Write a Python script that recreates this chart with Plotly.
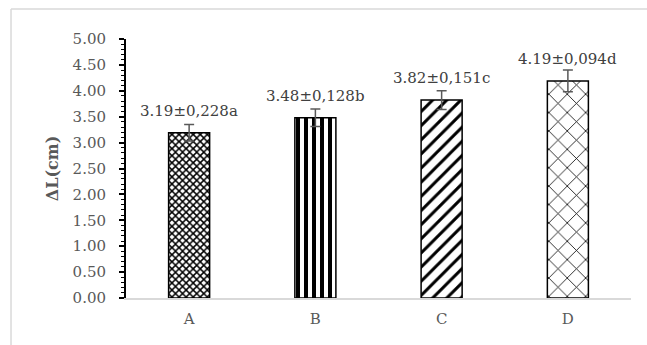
import plotly.graph_objects as go

categories = ["A", "B", "C", "D"]
means = [3.19, 3.48, 3.82, 4.19]
errors = [0.16, 0.17, 0.18, 0.21]
labels = ["3.19±0,228a", "3.48±0,128b", "3.82±0,151c", "4.19±0,094d"]
patterns = ["x", "|", "/", "x"]
pattern_sizes = [5, 8, 10, 13]
pattern_solidity = [0.5, 0.5, 0.3, 0.12]

fig = go.Figure()
fig.add_trace(go.Bar(
    x=categories, y=means, width=0.325,
    marker=dict(color="white", line=dict(color="black", width=1.5),
                pattern=dict(shape=patterns, size=pattern_sizes,
                             solidity=pattern_solidity, fgcolor="black",
                             bgcolor="white", fillmode="replace")),
    error_y=dict(type="data", array=errors, visible=True,
                 color="#595959", thickness=1.5, width=5),
    showlegend=False,
))

for c, m, lab in zip(categories, means, labels):
    fig.add_annotation(x=c, y=m, text=lab, showarrow=False, yanchor="bottom",
                       yshift=11, font=dict(family="DejaVu Serif", size=15, color="#404040"))

# outer frame (only left and top edges visible in the window)
fig.add_shape(type="line", xref="paper", yref="paper",
              x0=-0.2277, y0=-0.6, x1=-0.2277, y1=1.1158,
              line=dict(color="#d9d9d9", width=1.5))
fig.add_shape(type="line", xref="paper", yref="paper",
              x0=-0.2277, y0=1.1158, x1=1.2, y1=1.1158,
              line=dict(color="#d9d9d9", width=1.5))

fig.update_layout(
    width=647, height=345,
    margin=dict(l=126, r=16, t=39, b=47),
    paper_bgcolor="white", plot_bgcolor="white",
    font=dict(family="DejaVu Serif", color="#595959"),
    xaxis=dict(showline=True, linecolor="#d9d9d9", linewidth=1.5,
               ticks="", tickfont=dict(size=15, color="#595959"),
               ticklabelstandoff=6,
               range=[-0.5, 3.5]),
    yaxis=dict(range=[0, 5], dtick=0.5, tickformat=".2f",
               showgrid=False, zeroline=False,
               showline=True, linecolor="black", linewidth=2,
               ticks="outside", ticklen=5, tickwidth=1.5, tickcolor="black",
               minor=dict(dtick=0.1, ticks="outside", ticklen=3, tickwidth=1.2, tickcolor="black"),
               tickfont=dict(size=15, color="#595959"),
               ticklabelstandoff=10,
               title=dict(text="<b>ΔL(cm)</b>", font=dict(size=16, color="#595959"), standoff=10)),
)

fig.write_html("out.html", config={"displayModeBar": False},
               post_script="document.body.style.margin='0';document.body.style.overflow='hidden';")
